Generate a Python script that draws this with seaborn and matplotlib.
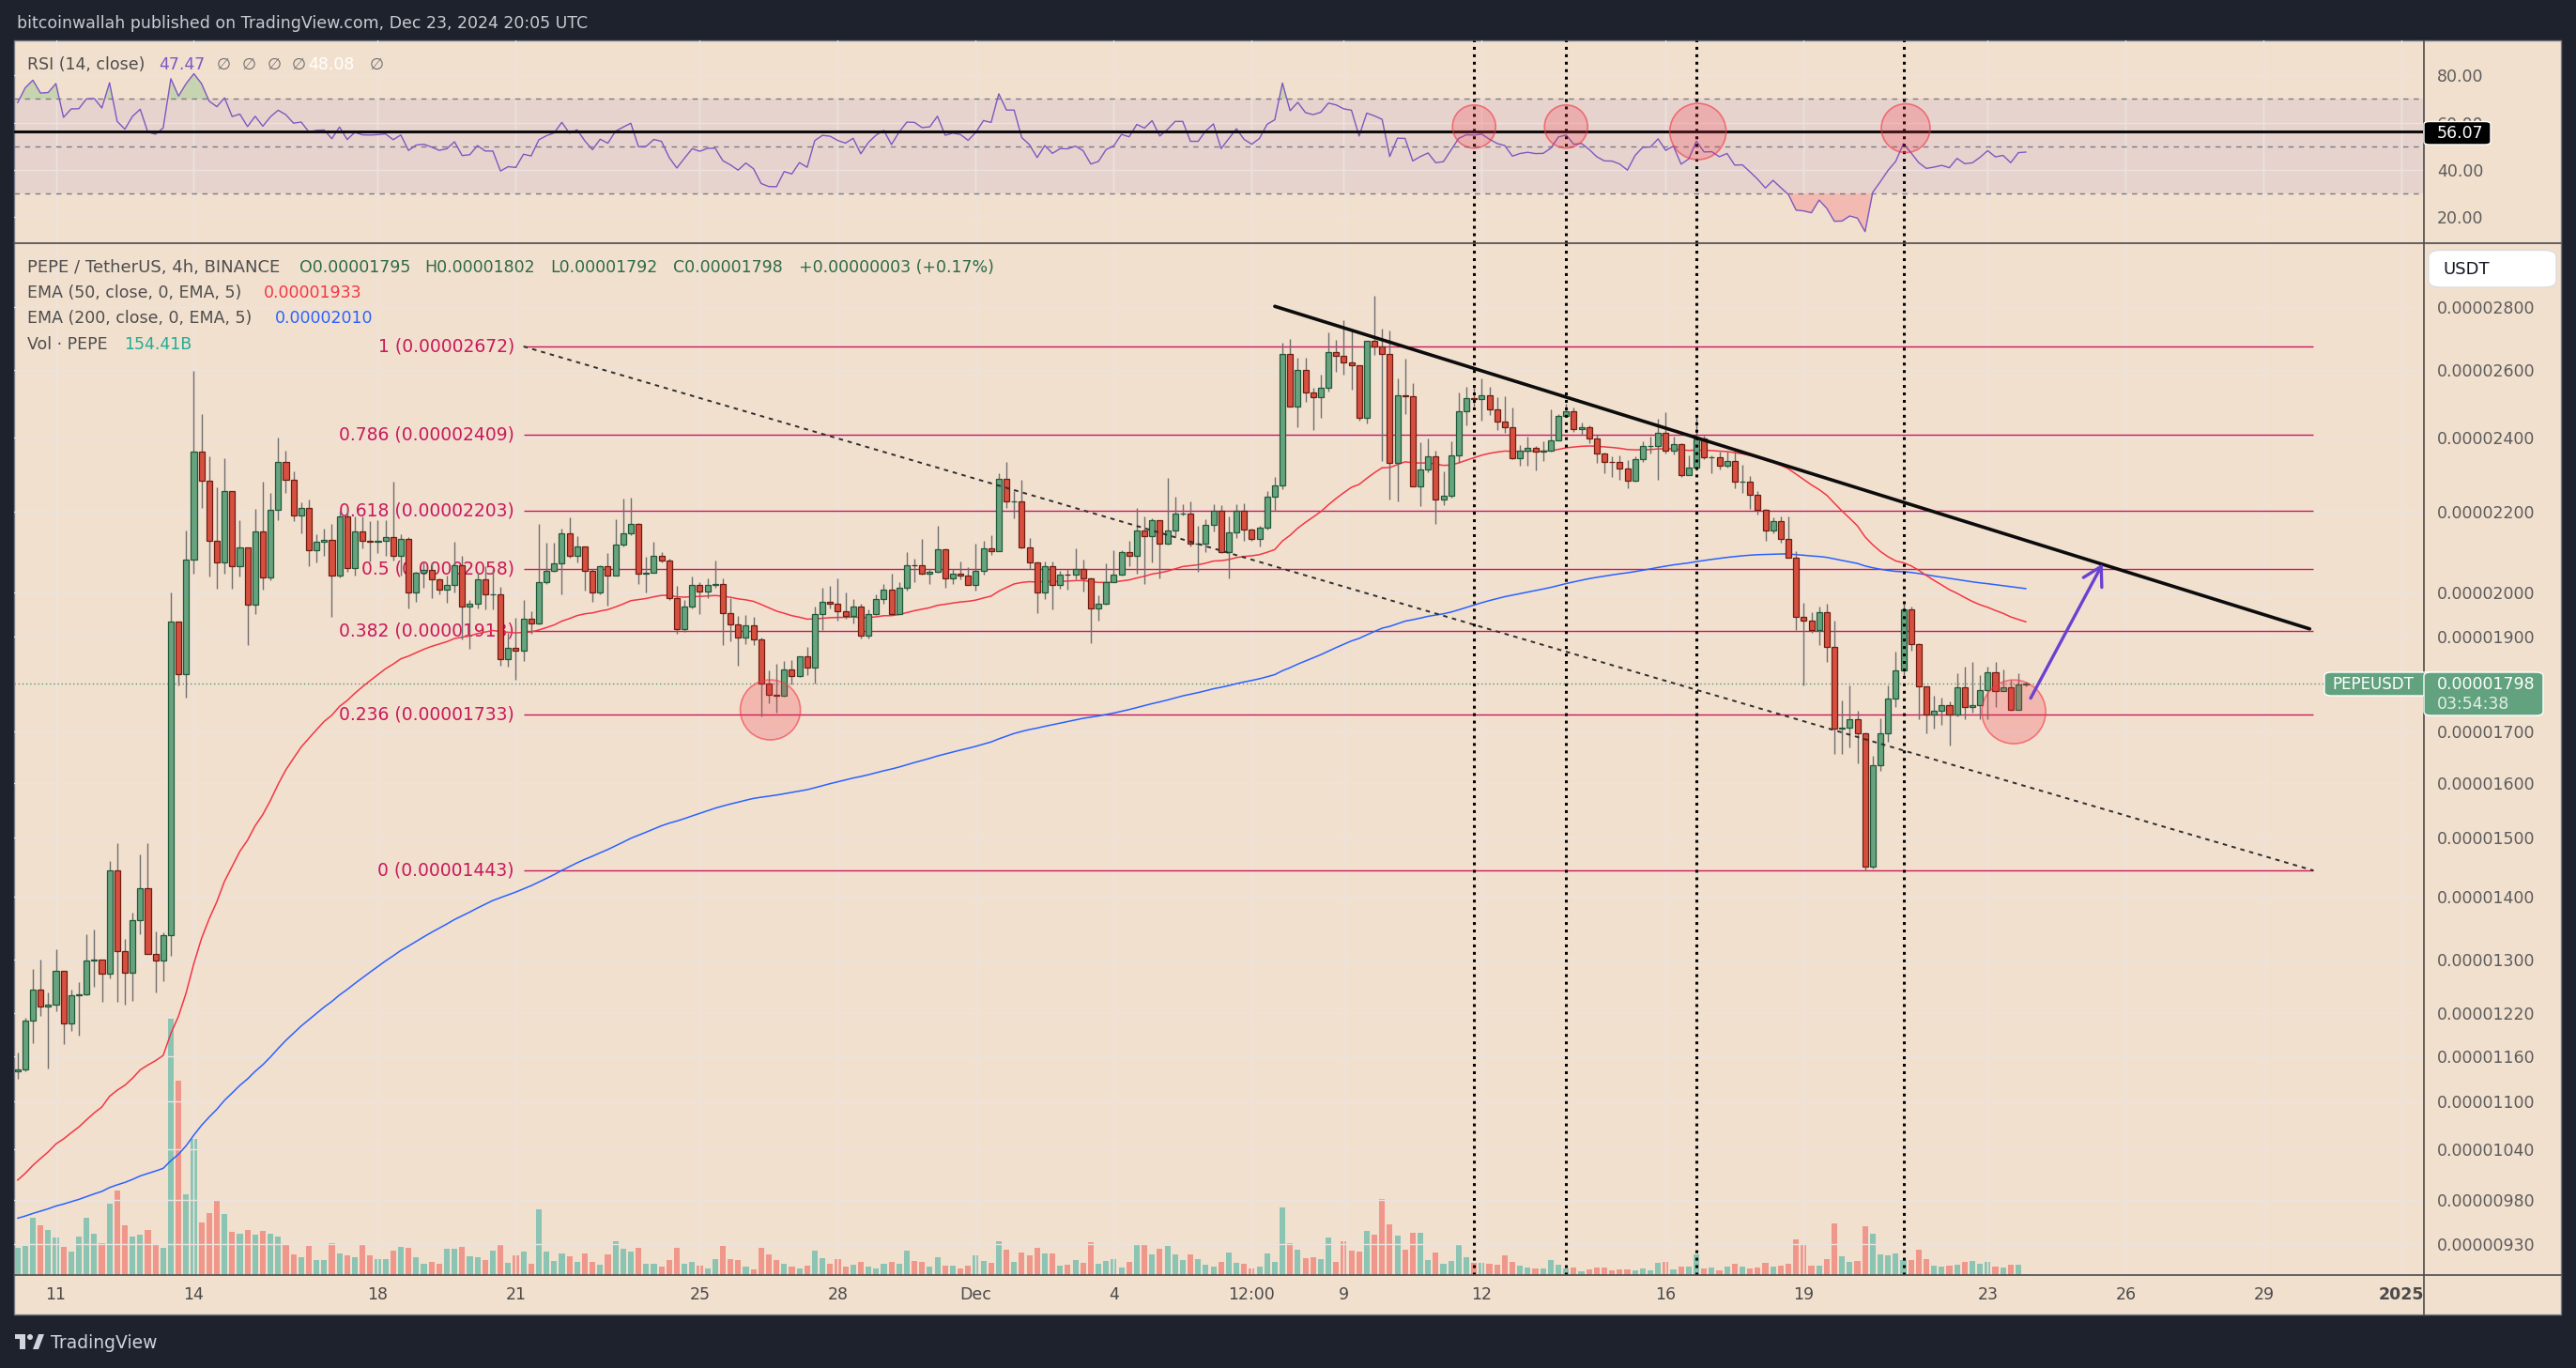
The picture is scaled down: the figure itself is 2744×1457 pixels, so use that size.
import numpy as np
import pandas as pd
import matplotlib
matplotlib.use("Agg")
import matplotlib.pyplot as plt
import seaborn as sns
from matplotlib.patches import Rectangle, FancyBboxPatch, Polygon, Ellipse
from matplotlib.lines import Line2D
from matplotlib.ticker import FixedLocator, NullLocator, FuncFormatter, NullFormatter

# ------------------------------------------------------------------ data
# PEPE/USDT 4h candles (Binance); prices in units of 1e-8 USDT
FIRST_BAR = "2024-11-10 04:00"
FIRST_OPEN = 1140
closes = [
    1142, 1209, 1255, 1230, 1233, 1283, 1206, 1246, 1247, 1298,
    1300, 1278, 1443, 1312, 1279, 1361, 1413, 1308, 1298, 1337,
    1934, 1818, 2080, 2362, 2281, 2125, 2072, 2254, 2064, 2109,
    1973, 2150, 2037, 2205, 2332, 2284, 2191, 2209, 2103, 2124,
    2129, 2042, 2189, 2059, 2150, 2125, 2123, 2127, 2135, 2088,
    2131, 2002, 2048, 2055, 2033, 2008, 2019, 2067, 1969, 1975,
    2033, 1997, 1997, 1851, 1875, 1869, 1941, 1930, 2026, 2053,
    2071, 2144, 2088, 2111, 2053, 2002, 2064, 2042, 2116, 2144,
    2170, 2046, 2048, 2088, 2078, 1988, 1917, 1967, 2019, 2004,
    2019, 2020, 1953, 1928, 1897, 1926, 1894, 1797, 1774, 1773,
    1828, 1814, 1857, 1832, 1951, 1979, 1975, 1957, 1946, 1967,
    1902, 1951, 1985, 2008, 1951, 2011, 2066, 2065, 2046, 2050,
    2104, 2035, 2045, 2040, 2019, 2052, 2107, 2101, 2287, 2227,
    2227, 2109, 2073, 2000, 2064, 2019, 2044, 2043, 2056, 2034,
    1964, 1975, 2026, 2043, 2098, 2088, 2152, 2138, 2178, 2118,
    2152, 2196, 2196, 2118, 2118, 2167, 2203, 2098, 2148, 2203,
    2154, 2131, 2160, 2240, 2269, 2649, 2490, 2599, 2532, 2518,
    2545, 2654, 2643, 2621, 2614, 2457, 2691, 2672, 2649, 2331,
    2522, 2520, 2267, 2312, 2348, 2232, 2242, 2351, 2475, 2515,
    2512, 2522, 2481, 2447, 2430, 2344, 2363, 2371, 2362, 2363,
    2393, 2463, 2476, 2425, 2430, 2398, 2357, 2333, 2332, 2316,
    2283, 2341, 2377, 2378, 2414, 2365, 2383, 2297, 2318, 2397,
    2345, 2346, 2322, 2335, 2279, 2280, 2245, 2205, 2152, 2176,
    2132, 2084, 1944, 1935, 1915, 1954, 1876, 1705, 1706, 1723,
    1695, 1449, 1634, 1696, 1766, 1826, 1961, 1883, 1791, 1733,
    1742, 1753, 1733, 1790, 1748, 1753, 1784, 1822, 1782, 1790,
    1744, 1795, 1798,
]
highs = [
    1165, 1213, 1286, 1300, 1251, 1316, 1283, 1255, 1265, 1339,
    1346, 1300, 1459, 1491, 1331, 1373, 1470, 1491, 1344, 1342,
    2000, 1934, 2151, 2597, 2469, 2347, 2263, 2344, 2254, 2178,
    2109, 2208, 2278, 2250, 2401, 2365, 2307, 2224, 2231, 2142,
    2158, 2169, 2203, 2211, 2189, 2189, 2176, 2178, 2178, 2278,
    2142, 2135, 2049, 2072, 2072, 2034, 2042, 2123, 2089, 1983,
    2047, 2064, 2057, 2014, 1909, 1943, 1983, 1957, 2170, 2121,
    2122, 2158, 2185, 2137, 2113, 2056, 2066, 2095, 2180, 2234,
    2237, 2172, 2086, 2123, 2099, 2081, 2016, 1984, 2038, 2025,
    2034, 2077, 2034, 1988, 1946, 1948, 1945, 1897, 1825, 1839,
    1847, 1848, 1857, 1876, 1969, 2012, 2016, 2034, 2000, 1985,
    1975, 1961, 1997, 2022, 2046, 2026, 2098, 2083, 2131, 2056,
    2165, 2107, 2056, 2074, 2062, 2118, 2127, 2141, 2301, 2333,
    2253, 2285, 2133, 2075, 2074, 2074, 2052, 2058, 2107, 2080,
    2036, 1995, 2070, 2102, 2102, 2127, 2210, 2187, 2183, 2178,
    2290, 2240, 2220, 2227, 2165, 2180, 2220, 2217, 2187, 2220,
    2222, 2156, 2163, 2255, 2293, 2685, 2697, 2638, 2636, 2545,
    2585, 2716, 2694, 2757, 2725, 2614, 2691, 2837, 2729, 2723,
    2574, 2634, 2560, 2387, 2398, 2363, 2308, 2391, 2532, 2549,
    2545, 2574, 2547, 2518, 2519, 2487, 2380, 2402, 2378, 2391,
    2481, 2469, 2499, 2487, 2443, 2436, 2408, 2359, 2348, 2350,
    2338, 2349, 2391, 2404, 2454, 2474, 2402, 2385, 2350, 2464,
    2405, 2350, 2361, 2361, 2361, 2326, 2294, 2255, 2207, 2185,
    2188, 2188, 2101, 1976, 1954, 1967, 1975, 1936, 1763, 1794,
    1742, 1697, 1651, 1725, 1794, 1867, 1976, 1967, 1886, 1791,
    1773, 1768, 1760, 1819, 1834, 1845, 1816, 1834, 1845, 1828,
    1805, 1819, 1802,
]
lows = [
    1129, 1140, 1178, 1216, 1143, 1223, 1177, 1195, 1189, 1246,
    1259, 1236, 1271, 1236, 1232, 1238, 1339, 1308, 1251, 1267,
    1305, 1793, 1768, 2046, 2211, 2039, 2010, 2046, 2010, 2039,
    1881, 1950, 2008, 2030, 2178, 2250, 2176, 2144, 2064, 2072,
    2088, 1944, 2036, 2049, 2042, 2108, 2075, 2095, 2088, 2078,
    2042, 1963, 1979, 2012, 1988, 1996, 1977, 2001, 1893, 1873,
    1963, 1961, 1961, 1836, 1834, 1805, 1846, 1907, 1928, 2022,
    2051, 1997, 2084, 2072, 2005, 1979, 1997, 1970, 2040, 2112,
    2140, 2021, 2001, 2047, 2072, 1983, 1906, 1911, 1964, 1950,
    1988, 2011, 1881, 1890, 1836, 1884, 1881, 1730, 1757, 1737,
    1770, 1796, 1812, 1816, 1798, 1915, 1963, 1936, 1939, 1930,
    1896, 1896, 1949, 1975, 1950, 1950, 2005, 2025, 2044, 2022,
    2048, 2011, 2020, 2031, 2019, 2005, 2043, 2091, 2101, 2209,
    2183, 2107, 2056, 1953, 1986, 1962, 2009, 2007, 2032, 2004,
    1886, 1935, 1973, 2025, 2041, 2064, 2045, 2020, 2073, 2034,
    2116, 2139, 2190, 2111, 2051, 2098, 2149, 2096, 2035, 2133,
    2125, 2125, 2111, 2154, 2202, 2259, 2490, 2430, 2503, 2422,
    2456, 2534, 2593, 2585, 2539, 2449, 2440, 2646, 2335, 2232,
    2228, 2467, 2267, 2214, 2305, 2168, 2218, 2237, 2331, 2436,
    2490, 2449, 2466, 2422, 2414, 2341, 2322, 2323, 2309, 2335,
    2362, 2392, 2461, 2416, 2409, 2385, 2331, 2303, 2293, 2284,
    2262, 2278, 2333, 2357, 2284, 2357, 2354, 2293, 2296, 2309,
    2341, 2301, 2313, 2318, 2261, 2250, 2207, 2194, 2126, 2144,
    2121, 2084, 1915, 1794, 1909, 1881, 1843, 1655, 1655, 1667,
    1636, 1443, 1447, 1623, 1678, 1749, 1812, 1869, 1723, 1696,
    1705, 1713, 1672, 1730, 1723, 1737, 1723, 1723, 1748, 1781,
    1741, 1743, 1792,
]
volumes = [
    87, 92, 182, 159, 144, 120, 90, 75, 122, 182,
    131, 101, 227, 270, 158, 122, 129, 145, 95, 87,
    819, 620, 257, 435, 167, 198, 239, 195, 137, 131,
    143, 128, 142, 131, 122, 95, 65, 57, 92, 47,
    47, 101, 68, 62, 57, 98, 63, 50, 50, 79,
    89, 86, 57, 37, 41, 35, 84, 84, 91, 59,
    56, 49, 77, 95, 38, 62, 74, 35, 209, 74,
    45, 70, 59, 41, 68, 42, 34, 65, 107, 83,
    74, 86, 35, 35, 26, 47, 86, 35, 41, 29,
    21, 50, 92, 50, 47, 26, 18, 86, 65, 47,
    35, 26, 21, 29, 77, 53, 37, 50, 27, 32,
    41, 27, 21, 35, 41, 35, 77, 44, 41, 27,
    57, 30, 29, 21, 29, 62, 44, 39, 107, 81,
    41, 71, 62, 86, 68, 69, 29, 32, 47, 38,
    104, 35, 44, 50, 24, 41, 98, 98, 65, 83,
    92, 65, 47, 65, 50, 32, 26, 42, 71, 39,
    35, 21, 26, 68, 41, 215, 101, 80, 53, 56,
    50, 119, 41, 107, 77, 74, 140, 130, 242, 161,
    125, 80, 134, 134, 47, 72, 35, 44, 98, 56,
    38, 38, 35, 32, 62, 41, 29, 23, 20, 20,
    47, 32, 20, 23, 11, 17, 25, 23, 14, 17,
    17, 14, 20, 14, 38, 41, 17, 26, 26, 65,
    20, 23, 14, 26, 35, 26, 20, 23, 38, 26,
    29, 35, 114, 95, 29, 29, 50, 164, 59, 41,
    44, 155, 131, 65, 62, 68, 47, 47, 80, 50,
    29, 27, 30, 32, 41, 46, 37, 41, 27, 23,
    32, 32, 3,
]
# indicator state carried in from history before the first visible bar
EMA50_START = 997
EMA200_START = 957
RSI_START_AVG_GAIN = 15
RSI_START_AVG_LOSS = 7

time_tick_dates = ["2024-11-11", "2024-11-14", "2024-11-18", "2024-11-21", "2024-11-25",
                   "2024-11-28", "2024-12-01", "2024-12-04", "2024-12-07", "2024-12-09",
                   "2024-12-12", "2024-12-16", "2024-12-19", "2024-12-23", "2024-12-26",
                   "2024-12-29", "2025-01-01"]
time_tick_labels = ["11", "14", "18", "21", "25", "28", "Dec", "4", "12:00", "9", "12",
                    "16", "19", "23", "26", "29", "2025"]
price_ticks = [2800, 2600, 2400, 2200, 2000, 1900, 1700, 1600, 1500, 1400, 1300,
               1220, 1160, 1100, 1040, 980, 930]
rsi_ticks = [80, 60, 40, 20]

fib_levels = ["1", "0.786", "0.618", "0.5", "0.382", "0.236", "0"]
fib_prices = [2672, 2409, 2203, 2058, 1913, 1733, 1443]

# drawings (anchor points: bar index, price in 1e-8 / RSI value)
fib_span_bars = [66, 299.5]
trend_bars = [164, 299]
trend_prices = [2801, 1917]
vline_dates = ["2024-12-11 20:00", "2024-12-13 20:00", "2024-12-16 16:00", "2024-12-21 04:00"]
rsi_circle_bars = [190, 202, 219.2, 246.3]
rsi_circle_vals = [58.3, 58.3, 56.2, 57.6]
rsi_circle_r_px = [23, 23, 30, 26]
main_circle_bars = [98.2, 260.4]
main_circle_prices = [1743, 1739]
main_circle_r_px = [32, 34]
arrow_bars = [262.6, 272.0]
arrow_prices = [1767, 2070]
rsi_hline = 56.07
last_price = 1798

# ------------------------------------------------------------------ derived series
SCALE = 1e-8
c = np.asarray(closes, float)
h = np.asarray(highs, float)
l = np.asarray(lows, float)
o = np.r_[FIRST_OPEN, c[:-1]]
v = np.asarray(volumes, float)
n = len(c)
bars = np.arange(n)

t0 = pd.Timestamp(FIRST_BAR)
def bar_of(d):
    return (pd.Timestamp(d) - t0) / pd.Timedelta("4h")

def ema(values, length, start):
    a = 2.0 / (length + 1)
    out, prev = [], start
    for val in values:
        prev = prev + a * (val - prev)
        out.append(prev)
    return np.array(out)

ema50 = ema(c, 50, EMA50_START)
ema200 = ema(c, 200, EMA200_START)

delta = np.diff(np.r_[FIRST_OPEN, c])
gains = np.clip(delta, 0, None)
losses = np.clip(-delta, 0, None)
ag, al = [], []
pg, pl = RSI_START_AVG_GAIN, RSI_START_AVG_LOSS
for g_, l_ in zip(gains, losses):
    pg = (pg * 13 + g_) / 14
    pl = (pl * 13 + l_) / 14
    ag.append(pg); al.append(pl)
rsi = 100 - 100 / (1 + np.array(ag) / np.array(al))

# ------------------------------------------------------------------ style
W, H, DPI = 2744, 1457, 100
BG_DARK = "#1e222d"
BG = "#f2e0cf"
GRID = "#ebe3e0"
UP, DOWN = "#67a37f", "#d7503f"
UP_EDGE, DOWN_EDGE = "#1f5a3a", "#6e1d12"
WICK = "#6e6e6e"
VOL_UP, VOL_DOWN = "#8cc4b3", "#f0978b"
FIB = "#c9195a"
AXIS_TXT = "#5b5b5b"
LEG_GREY = "#4d4d4d"
LABEL_GREEN = "#63a27f"

sns.set_theme(style="white")
plt.rcParams["font.family"] = ["DejaVu Sans"]

fig = plt.figure(figsize=(W / DPI, H / DPI), dpi=DPI, facecolor=BG_DARK)

PANE_L, PANE_R, FRAME_R = 15, 2582, 2728
TOP, SEP1, SEP2, BOTTOM = 43, 259, 1358, 1400

def frect(x0, y0, x1, y1):
    return [x0 / W, 1 - y1 / H, (x1 - x0) / W, (y1 - y0) / H]

# chart frame background
fig.add_artist(Rectangle((PANE_L / W, 1 - BOTTOM / H), (FRAME_R - PANE_L) / W,
                         (BOTTOM - TOP) / H, transform=fig.transFigure,
                         facecolor=BG, edgecolor="#767a85", lw=1.0, zorder=-5))

ax = fig.add_axes(frect(PANE_L, SEP1, PANE_R, SEP2))
ax_v = ax.twinx()
ax_r = fig.add_axes(frect(PANE_L, TOP, PANE_R, SEP1), sharex=ax)
ax.set_zorder(ax_v.get_zorder() + 1)
for a in (ax, ax_v, ax_r):
    a.patch.set_visible(False)
    for s in a.spines.values():
        s.set_visible(False)

XMIN, XMAX = -0.45, 313.9
tick_bars = [bar_of(d) for d in time_tick_dates]

# ---------------- main pane
ax.set_yscale("log")
ax.set_xlim(XMIN, XMAX)
ax.set_ylim(896.9 * SCALE, 3016.8 * SCALE)
ax.yaxis.tick_right()
ax.yaxis.set_major_locator(FixedLocator(np.array(price_ticks) * SCALE))
ax.yaxis.set_minor_locator(NullLocator())
ax.yaxis.set_minor_formatter(NullFormatter())
ax.yaxis.set_major_formatter(FuncFormatter(lambda val, pos: f"{val:.8f}"))
ax.set_xticks(tick_bars)
ax.set_xticklabels(time_tick_labels)
ax.xaxis.set_minor_locator(NullLocator())
ax.tick_params(axis="both", which="both", length=0)
ax.tick_params(axis="y", pad=10, labelsize=12.5, labelcolor=AXIS_TXT)
ax.tick_params(axis="x", pad=9, labelsize=12.5, labelcolor="#4a4a4a")
ax.get_xticklabels()[-1].set_fontweight("bold")
ax.grid(True, color=GRID, lw=1.0)
ax.set_axisbelow(True)

# volume overlay
up = c >= o
ax_v.bar(bars, v, width=0.75, color=np.where(up, VOL_UP, VOL_DOWN), linewidth=0, zorder=1)
ax_v.set_ylim(0, v.max() / 0.2485)
ax_v.set_yticks([])
ax_v.tick_params(right=False, labelright=False)

# fib retracement
fib_p = np.array(fib_prices) * SCALE
ax.hlines(fib_p, fib_span_bars[0], fib_span_bars[1], color=FIB, lw=1.0, zorder=1.5)
for lvl, p in zip(fib_levels, fib_prices):
    ax.annotate(f"{lvl} ({p * SCALE:.8f})", xy=(fib_span_bars[0], p * SCALE),
                xytext=(-7, 0), textcoords="offset points", ha="right", va="center",
                color=FIB, fontsize=13.5, zorder=2)
ax.plot(fib_span_bars, [fib_prices[0] * SCALE, fib_prices[-1] * SCALE],
        color="#2e2e2e", lw=1.4, ls=(0, (2.4, 2.6)), zorder=5)

# current price line
ax.axhline(last_price * SCALE, color="#4e9a75", lw=1.0, ls=(0, (1, 2)), zorder=2)

# EMAs
sns.lineplot(x=bars, y=ema200 * SCALE, ax=ax, color="#2962ff", linewidth=1.1, zorder=2.5)
sns.lineplot(x=bars, y=ema50 * SCALE, ax=ax, color="#f23645", linewidth=1.1, zorder=2.6)

# candles
ax.vlines(bars, l * SCALE, h * SCALE, colors=WICK, lw=1.0, zorder=3)
body_lo = np.minimum(o, c) * SCALE
body_hi = np.maximum(o, c) * SCALE
ax.bar(bars, body_hi - body_lo, bottom=body_lo, width=0.74,
       color=np.where(up, UP, DOWN), edgecolor=np.where(up, UP_EDGE, DOWN_EDGE),
       linewidth=0.9, zorder=4)

# trend line
ax.plot(trend_bars, np.array(trend_prices) * SCALE, color="#0c0c0c", lw=2.6,
        solid_capstyle="round", zorder=6)

# circles
def r_to_s(r_px):
    return (2 * np.asarray(r_px) * 72 / DPI) ** 2

ax.scatter(main_circle_bars, np.array(main_circle_prices) * SCALE, s=r_to_s(main_circle_r_px),
           facecolor=(0.95, 0.21, 0.27, 0.23), edgecolor=(0.95, 0.21, 0.27, 0.6),
           linewidth=1.2, zorder=7)

# arrow
ax.annotate("", xy=(arrow_bars[1], arrow_prices[1] * SCALE),
            xytext=(arrow_bars[0], arrow_prices[0] * SCALE),
            arrowprops=dict(arrowstyle="->,head_length=0.7,head_width=0.4", color="#6a41cf",
                            lw=2.4, shrinkA=0, shrinkB=0, mutation_scale=20), zorder=8)

# vertical dotted markers
vline_bars = [bar_of(d) for d in vline_dates]
for b in vline_bars:
    ax.axvline(b, color="black", lw=2.2, ls=(0, (1, 1.6)), zorder=6)
    ax_r.axvline(b, color="black", lw=2.2, ls=(0, (1, 1.6)), zorder=6)

# ---------------- RSI pane
ax_r.set_ylim(8.77, 94.9)
ax_r.yaxis.tick_right()
ax_r.yaxis.set_major_locator(FixedLocator(rsi_ticks))
ax_r.yaxis.set_major_formatter(FuncFormatter(lambda val, pos: f"{val:.2f}"))
ax_r.tick_params(axis="both", length=0)
ax_r.tick_params(axis="y", pad=10, labelsize=12.5, labelcolor=AXIS_TXT)
ax_r.tick_params(axis="x", labelbottom=False)
ax_r.grid(True, color=GRID, lw=1.0)
ax_r.set_axisbelow(True)
ax_r.axhspan(30, 70, color="#7e57c2", alpha=0.09, lw=0, zorder=0.5)
for lvl in (70, 50, 30):
    ax_r.axhline(lvl, color="#787b86", lw=1.0, ls=(0, (4, 4)), zorder=1)
ax_r.fill_between(bars, rsi, 70, where=rsi > 70, interpolate=True, color="#4caf50",
                  alpha=0.25, lw=0, zorder=1.5)
ax_r.fill_between(bars, rsi, 30, where=rsi < 30, interpolate=True, color="#f23645",
                  alpha=0.22, lw=0, zorder=1.5)
sns.lineplot(x=bars, y=rsi, ax=ax_r, color="#7e57c2", linewidth=1.0, zorder=3)
ax_r.axhline(rsi_hline, color="#0c0c0c", lw=2.2, zorder=4)
ax_r.scatter(rsi_circle_bars, rsi_circle_vals, s=r_to_s(rsi_circle_r_px),
             facecolor=(0.95, 0.21, 0.27, 0.23), edgecolor=(0.95, 0.21, 0.27, 0.6),
             linewidth=1.2, zorder=7)
ax_r.set_xlim(XMIN, XMAX)

# ---------------- frame separators
def fline(x0, y0, x1, y1, **kw):
    fig.add_artist(Line2D([x0 / W, x1 / W], [1 - y0 / H, 1 - y1 / H],
                          transform=fig.transFigure, **kw))

fline(PANE_L, SEP1, FRAME_R, SEP1, color="#4b4b4b", lw=1.2, zorder=9)
fline(PANE_L, SEP2, FRAME_R, SEP2, color="#4b4b4b", lw=1.2, zorder=9)
fline(PANE_R, TOP, PANE_R, BOTTOM, color="#4b4b4b", lw=1.2, zorder=9)

# ---------------- text helpers
def T(x, y, s, color, size=12.5, **kw):
    fig.text(x / W, 1 - y / H, s, color=color, fontsize=size, va="center", ha="left",
             zorder=12, **kw)

def box(x0, y0, x1, y1, color, rounding=4, **kw):
    fig.add_artist(FancyBboxPatch((x0 / W, 1 - y1 / H), (x1 - x0) / W, (y1 - y0) / H,
                                  boxstyle=f"round,pad=0,rounding_size={rounding / H}",
                                  transform=fig.transFigure, facecolor=color,
                                  zorder=10, **kw))

# header
T(18, 25, "bitcoinwallah published on TradingView.com, Dec 23, 2024 20:05 UTC", "#c9cbd1", 12.5)

# RSI legend
T(29, 69, "RSI (14, close)", LEG_GREY)
T(169.6, 69, "47.47", "#7e57c2")
for xx in (231, 258, 285, 311):
    T(xx, 69, "\u2205", "#6a6a6a")
T(328.4, 69, "48.08", "#ffffff")
T(394, 69, "\u2205", "#6a6a6a")

# main legend
OHLC_GREEN = "#2c6a45"
T(29, 285, "PEPE / TetherUS, 4h, BINANCE", LEG_GREY, 13)
T(319, 285, "O0.00001795", OHLC_GREEN)
T(452.6, 285, "H0.00001802", OHLC_GREEN)
T(586.7, 285, "L0.00001792", OHLC_GREEN)
T(717, 285, "C0.00001798", OHLC_GREEN)
T(850.5, 285, "+0.00000003 (+0.17%)", OHLC_GREEN)
T(29, 312.3, "EMA (50, close, 0, EMA, 5)", LEG_GREY)
T(280.7, 312.3, "0.00001933", "#f23645")
T(29, 339.3, "EMA (200, close, 0, EMA, 5)", LEG_GREY)
T(293.3, 339.3, "0.00002010", "#2962ff")
T(29, 366.7, "Vol \u00b7 PEPE", LEG_GREY)
T(132, 366.7, "154.41B", "#22ab94")

# axis labels / boxes
box(2582, 129.5, 2653, 154, "#000000", rounding=3)
T(2596, 141.8, "56.07", "#ffffff")
box(2587, 266.5, 2723, 306, "#ffffff", rounding=7, edgecolor="#dcdcdc", lw=1)
T(2602, 286.5, "USDT", "#131722", 13)
box(2476, 716, 2600, 741, LABEL_GREEN, rounding=4)
T(2484, 728.8, "PEPEUSDT", "#ffffff", 12)
box(2582, 716, 2709, 762, LABEL_GREEN, rounding=4)
T(2596, 728.5, "0.00001798", "#ffffff")
T(2596, 750, "03:54:38", "#e3efe7")

# TradingView logo
LOGO = "#d1d4dc"
def frect_art(x0, y0, x1, y1):
    fig.add_artist(Rectangle((x0 / W, 1 - y1 / H), (x1 - x0) / W, (y1 - y0) / H,
                             transform=fig.transFigure, facecolor=LOGO, lw=0, zorder=10))
frect_art(16, 1421, 27, 1426)
frect_art(21, 1421, 27, 1437)
fig.add_artist(Ellipse((32 / W, 1 - 1424 / H), 6 / W, 6 / H, transform=fig.transFigure,
                       facecolor=LOGO, lw=0, zorder=10))
fig.add_artist(Polygon([(35 / W, 1 - 1437 / H), (41 / W, 1 - 1437 / H),
                        (47 / W, 1 - 1421 / H), (41 / W, 1 - 1421 / H)],
                       closed=True, transform=fig.transFigure, facecolor=LOGO, lw=0, zorder=10))
T(54, 1430, "TradingView", LOGO, 13.5)

fig.savefig("out.png", dpi=DPI, facecolor=BG_DARK)
